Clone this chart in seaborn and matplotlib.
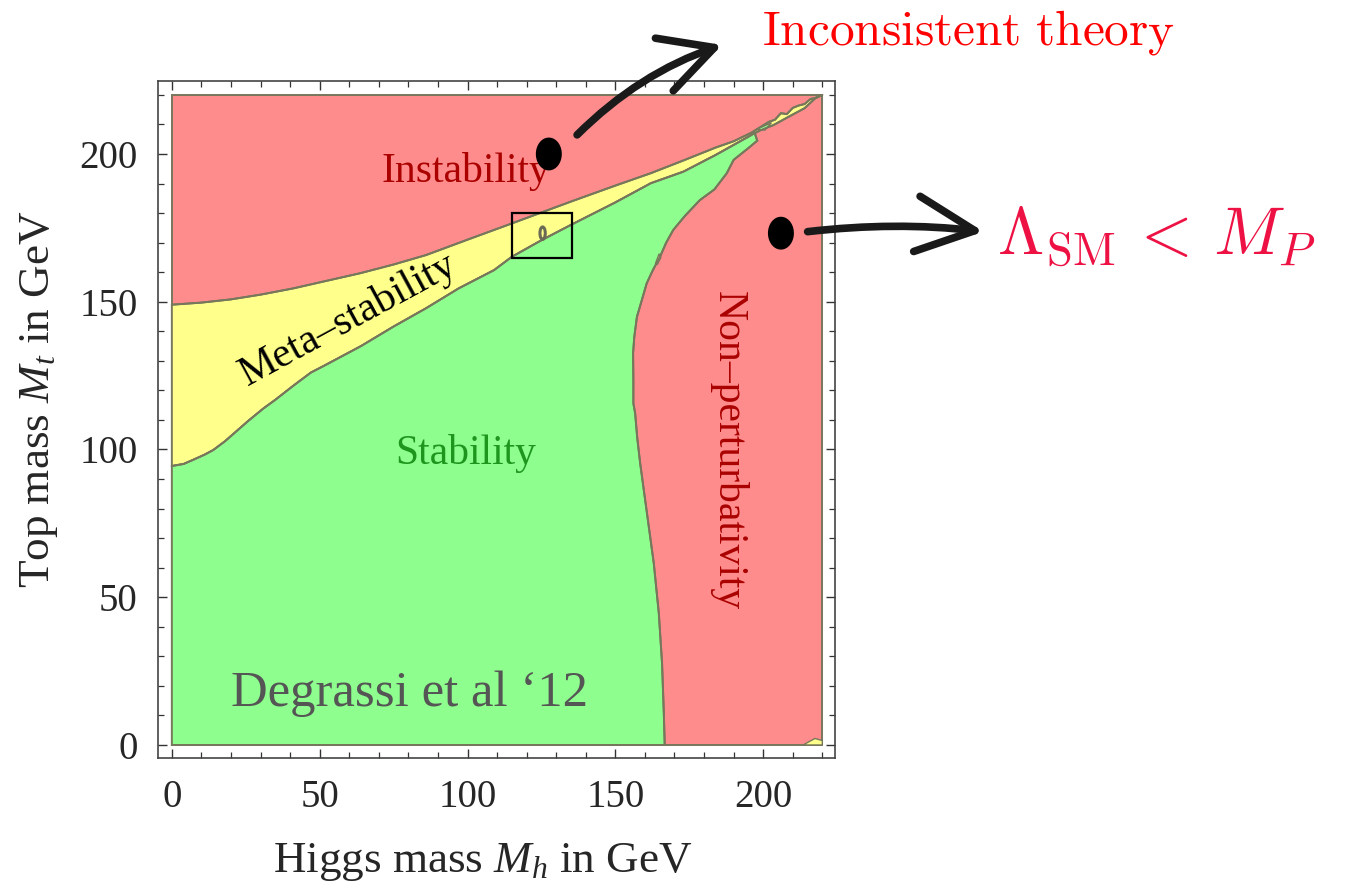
import numpy as np
import matplotlib
matplotlib.use("Agg")
import matplotlib.pyplot as plt
from matplotlib.patches import Ellipse, Rectangle, FancyArrowPatch
from matplotlib.path import Path
from matplotlib.ticker import MultipleLocator
import seaborn as sns

# ---------------- data ----------------
# Instability / meta-stability boundary
upper_x = [0, 10, 20, 30, 41, 52, 63.5, 75, 86, 100, 115, 125, 135, 150, 162, 173,
           184, 190, 196, 202, 204, 206, 208, 210, 212, 214, 216, 218, 220]
upper_y = [149, 149.7, 150.8, 152.4, 154.5, 157, 159.6, 162.6, 165.8, 171, 176.5, 180.2,
           183.9, 189.3, 193.5, 197.8, 202.2, 204.3, 207.2, 210.9, 211.6, 213.8, 213.5,
           215.6, 216.4, 216.9, 218.6, 219.0, 220]
# Meta-stability / stability boundary (continues as the lower edge of the yellow tip)
lower_x = [0, 4, 7, 11, 14, 18, 22, 26, 31, 35, 41, 47, 52, 58, 64, 75, 86, 97, 109,
           115, 125, 135, 150, 162, 173, 184, 196, 199, 203.5, 209, 214, 218, 220]
lower_y = [94.4, 95.1, 96.4, 98.2, 99.8, 102.8, 106.3, 109.8, 113.9, 116.8, 121.5, 126,
           128.6, 131.8, 135, 141.6, 147.8, 154.5, 160.7, 165.2, 170.8, 176, 183.6, 190.1,
           194, 199.7, 206.4, 208.0, 209.8, 212.8, 215.5, 219.2, 220]
green_tip = 26  # index in lower_* where the stable region ends
# Stability / non-perturbativity boundary
np_x = [197, 198, 195, 190, 187.7, 183.5, 178.6, 173.5, 169.6, 167.2, 165.1, 162.6,
        160.6, 158.8, 157.3, 156.4, 156, 156.1, 156.1, 156.7, 157.4, 158.4, 160.7, 163,
        164.7, 165.8, 166.4, 166.7]
np_y = [207.5, 204.5, 202, 198, 193.5, 188, 184.4, 179, 174.3, 170, 165.2, 160.5, 156.2,
        150, 144.9, 138, 132.6, 123.5, 115.6, 112.2, 104, 95.3, 78.4, 61.5, 44.6, 27.6,
        10.7, 0]
# small islands
green_isl_x = [197.6, 202.8, 200.6]
green_isl_y = [208.3, 210.6, 208.1]
yel_isl1_x = [163.6, 164.8, 165.4, 164.2]
yel_isl1_y = [163.0, 166.2, 165.0, 162.6]
yel_isl2_x = [213.5, 217.5, 220, 220]
yel_isl2_y = [0, 2.2, 1.5, 0]

# marked points (Mh, Mt)
dot_x = [127.5, 206.0]
dot_y = [200.0, 173.2]
higgs_x, higgs_y = 125.4, 173.2
box_x = [115.0, 135.3]
box_y = [164.8, 180.1]

xticks = [0, 50, 100, 150, 200]
yticks = [0, 50, 100, 150, 200]

# ---------------- style ----------------
sns.set_style("ticks")
plt.rcParams["font.family"] = ["Liberation Serif", "DejaVu Serif"]
plt.rcParams["mathtext.fontset"] = "custom"
plt.rcParams["mathtext.rm"] = "Liberation Serif"
plt.rcParams["mathtext.it"] = "Liberation Serif:italic"

RED = "#FF8C8C"
YEL = "#FFFF8C"
GRN = "#8EFF8E"
EDGE = "#77775c"

fig = plt.figure(figsize=(13.56, 8.93), dpi=100)
ax = fig.add_axes([0.1167, 0.1512, 0.4991, 0.7581])

# regions
ax.fill([0, 220, 220, 0], [0, 0, 220, 220], color=RED, ec=EDGE, lw=1.4, zorder=1)
yx = list(upper_x) + list(lower_x[::-1])
yy = list(upper_y) + list(lower_y[::-1])
ax.fill(yx, yy, color=YEL, ec=EDGE, lw=1.4, zorder=2)
gx = [0] + list(lower_x[:green_tip + 1]) + list(np_x) + [0]
gy = [0] + list(lower_y[:green_tip + 1]) + list(np_y) + [0]
ax.fill(gx, gy, color=GRN, ec=EDGE, lw=1.4, zorder=3)
ax.fill(green_isl_x, green_isl_y, color=GRN, ec=EDGE, lw=1.0, zorder=3)
ax.fill(yel_isl1_x, yel_isl1_y, color=YEL, ec=EDGE, lw=1.0, zorder=3)
ax.fill(yel_isl2_x, yel_isl2_y, color=YEL, ec=EDGE, lw=1.0, zorder=3)

# boundary lines through seaborn
sns.lineplot(x=upper_x, y=upper_y, sort=False, estimator=None, color=EDGE, lw=1.4, ax=ax, zorder=4)
sns.lineplot(x=lower_x, y=lower_y, sort=False, estimator=None, color=EDGE, lw=1.4, ax=ax, zorder=4)
sns.lineplot(x=np_x, y=np_y, sort=False, estimator=None, color=EDGE, lw=1.4, ax=ax, zorder=4)

# Higgs point contour + box
ax.add_patch(Ellipse((higgs_x, higgs_y), 1.8, 4.2, fill=False, ec="#6b6b55", lw=2.2, zorder=5))
ax.add_patch(Rectangle((box_x[0], box_y[0]), box_x[1] - box_x[0], box_y[1] - box_y[0],
                       fill=False, ec="black", lw=1.6, zorder=6))

# black dots (elliptical markers)
t = np.linspace(0, 2 * np.pi, 60)
ell = Path(np.column_stack([0.79 * np.cos(t), np.sin(t)]), closed=True)
sns.scatterplot(x=dot_x, y=dot_y, marker=ell, s=560, color="black", edgecolor="none",
                ax=ax, zorder=10, clip_on=False)

# region labels
ax.text(99.5, 194, "Instability", color="#AA0000", fontsize=30, ha="center", va="center", zorder=7)
ax.text(99.5, 98.5, "Stability", color="#1E961E", fontsize=30, ha="center", va="center", zorder=7)
ax.text(59.5, 144, "Meta\u2013stability", color="black", fontsize=30, ha="center", va="center",
        rotation=28.5, rotation_mode="anchor", zorder=7)
ax.text(188.2, 99.8, "Non\u2013perturbativity", color="#AA0000", fontsize=30, ha="center",
        va="center", rotation=-90, zorder=7)
ax.text(80.5, 17.5, "Degrassi et al \u201812", color="#555555", fontsize=36.5, ha="center",
        va="center", zorder=7)

# axes
ax.set_xlim(-4.6, 224.3)
ax.set_ylim(-4.4, 224.7)
ax.set_xticks(xticks)
ax.set_yticks(yticks)
ax.xaxis.set_minor_locator(MultipleLocator(10))
ax.yaxis.set_minor_locator(MultipleLocator(10))
ax.tick_params(which="both", direction="in", top=True, right=True, color="#333333")
ax.tick_params(which="major", length=6.5, width=1.0, labelsize=28, pad=15)
ax.tick_params(which="minor", length=4.2, width=0.9)
for s in ax.spines.values():
    s.set_color("#444444")
    s.set_linewidth(1.2)
ax.set_xlabel(r"Higgs mass $M_h$ in GeV", fontsize=32.5)
ax.set_ylabel(r"Top mass $M_t$ in GeV", fontsize=32.5)
ax.xaxis.set_label_coords(0.479, -0.122)
ax.yaxis.set_label_coords(-0.145, 0.53)

# annotations outside
ax.text(199.5, 236.9, r"$\mathrm{Inconsistent\ theory}$", color="#FF0000", fontsize=35.5,
        math_fontfamily="cm", ha="left", va="baseline", clip_on=False)
ax.text(279.0, 165.8, r"$\Lambda_{\rm SM} \,<\, M_P$", color="#EE1144", fontsize=48,
        math_fontfamily="cm", ha="left", va="baseline", clip_on=False)

arr1 = FancyArrowPatch((136.4, 205.8), (187.0, 237.2), connectionstyle="arc3,rad=-0.12",
                       arrowstyle="->,head_length=1.9,head_width=1.0", mutation_scale=20,
                       lw=5.5, color="#1a1a1a", capstyle="round", joinstyle="round",
                       clip_on=False, zorder=10)
arr2 = FancyArrowPatch((214.1, 173.6), (275.5, 173.6), connectionstyle="arc3,rad=-0.06",
                       arrowstyle="->,head_length=2.1,head_width=1.0", mutation_scale=20,
                       lw=5.5, color="#1a1a1a", capstyle="round", joinstyle="round",
                       clip_on=False, zorder=10)
ax.add_patch(arr1)
ax.add_patch(arr2)

fig.savefig("out.png", dpi=100)
